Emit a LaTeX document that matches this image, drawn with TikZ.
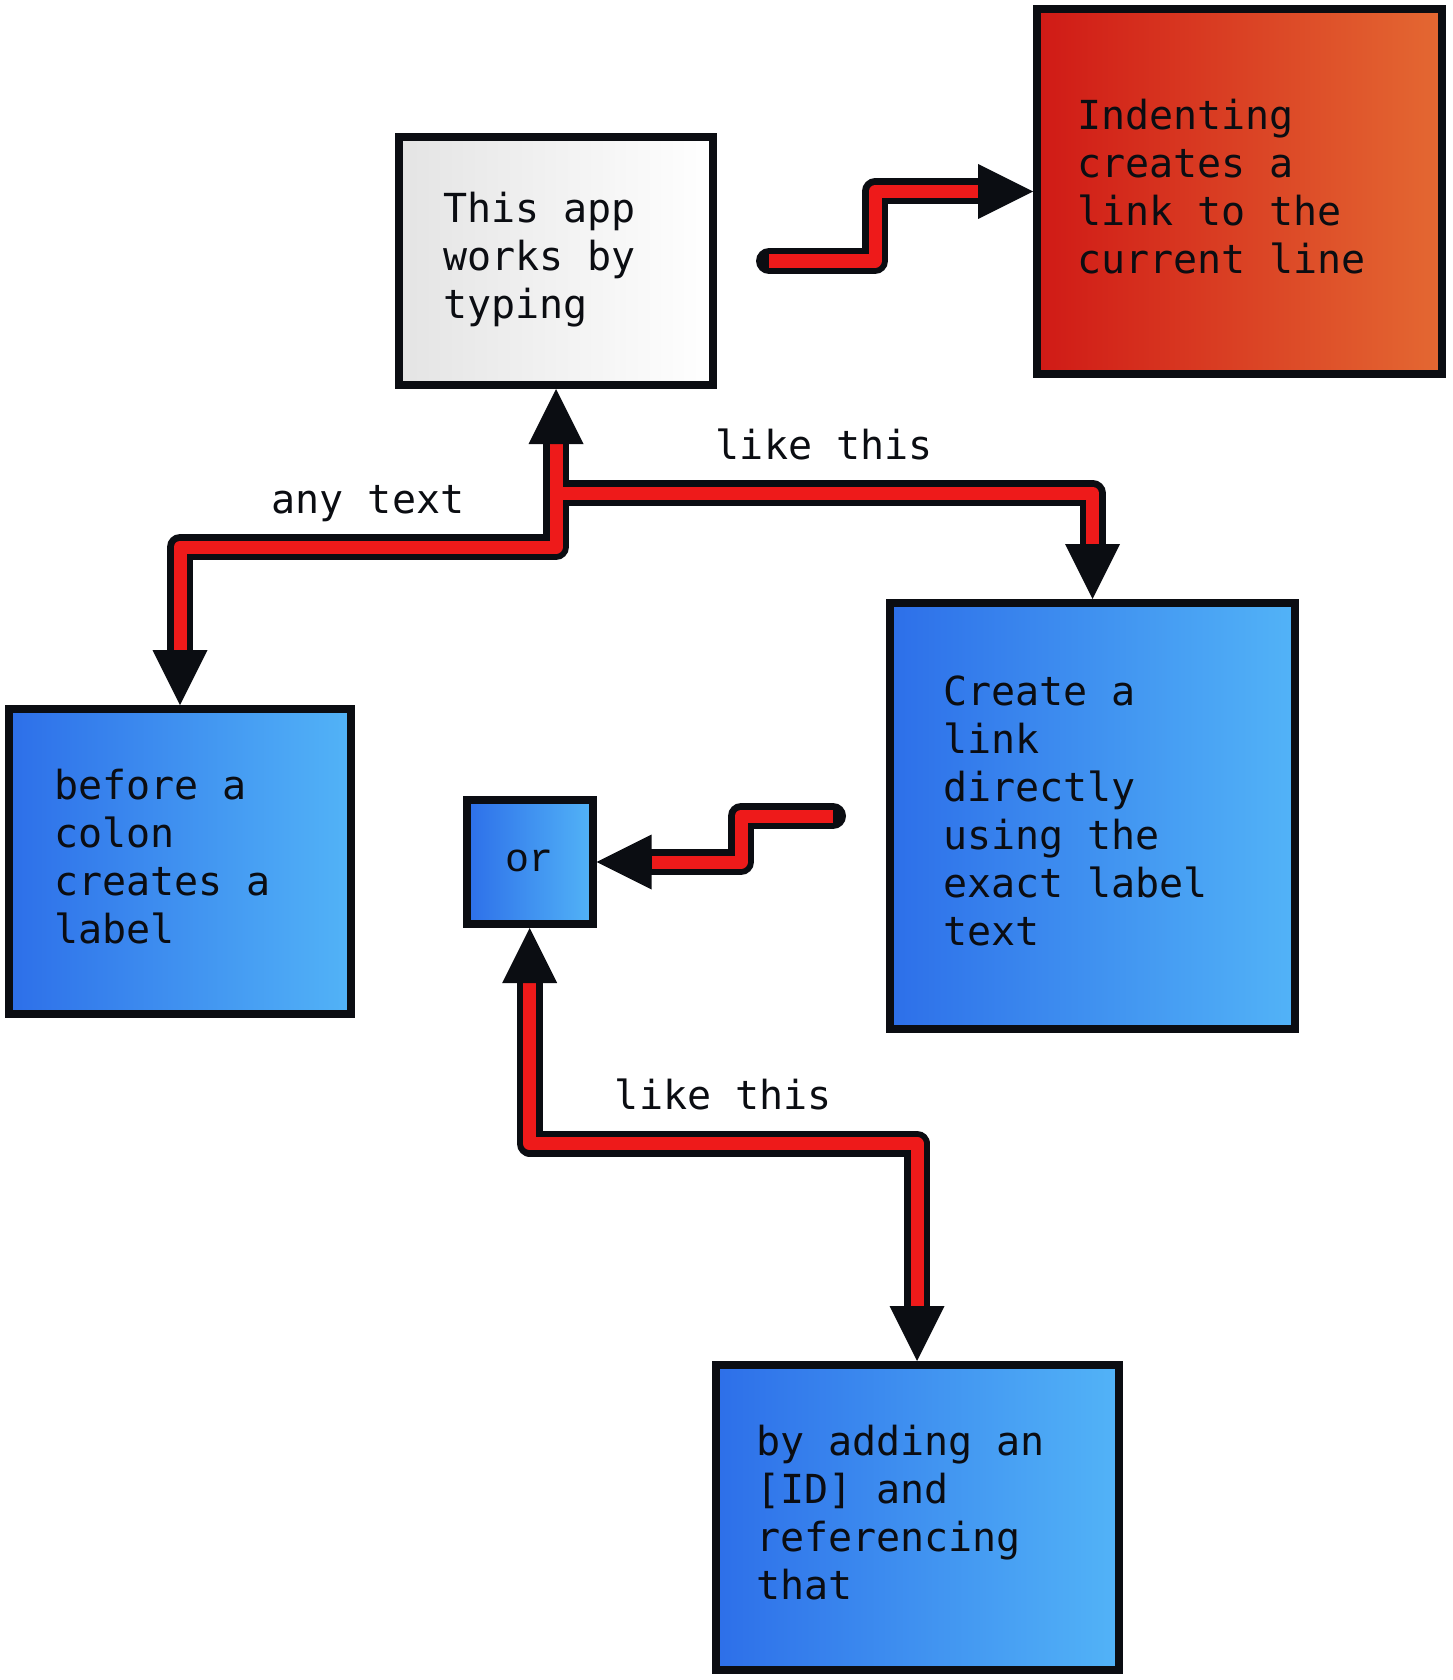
\documentclass[tikz,border=0pt]{standalone}
\usepackage{fontspec}
\newfontfamily\monofont{DejaVu Sans Mono}
\newfontfamily\courfont{Liberation Mono}
\usetikzlibrary{calc}
\definecolor{ink}{HTML}{0B0D12}
\definecolor{linered}{HTML}{EE1A1A}
\definecolor{blueL}{HTML}{2D6FE9}
\definecolor{blueR}{HTML}{52B3F7}
\definecolor{redL}{HTML}{D01A16}
\definecolor{redR}{HTML}{E46832}
\definecolor{greyL}{HTML}{E4E4E4}
\begin{document}
\begin{tikzpicture}[x=1pt,y=-1pt,
  box/.style={draw=ink, line width=8pt, inner sep=0pt, align=flush left,
    font=\monofont\fontsize{40}{48}\selectfont, text=ink,
    execute at begin node={\spaceskip=0pt\xspaceskip=0pt\strut}, execute at end node=\strut},
  greybox/.style={box, left color=greyL, right color=white},
  redbox/.style={box, left color=redL, right color=redR},
  bluebox/.style={box, left color=blueL, right color=blueR},
  outl/.style={draw=ink, line width=26pt, line cap=round, line join=round},
  redl/.style={draw=linered, line width=13pt, line join=round},
  tipfill/.style={fill=ink},
  lbl/.style={font=\monofont\fontsize{40}{48}\selectfont, text=ink, anchor=base, inner sep=0pt, yshift=34pt}
]
\useasboundingbox (0,0) rectangle (1452,1680);
\fill[white] (0,0) rectangle (1452,1680);

% boxes
\node[greybox, minimum width=314pt, minimum height=248pt, text width=226pt] (A) at (556,261) {This app\\works by\\typing};
\node[redbox, minimum width=405pt, minimum height=365pt, text width=325pt] (B) at (1239.5,191.5) {Indenting\\creates a\\link to the\\current line};
\node[bluebox, minimum width=342pt, minimum height=305pt, text width=252pt] (C) at (180,861.5) {before a\\colon\\creates a\\label};
\node[bluebox, minimum width=405pt, minimum height=426pt, text width=299pt] (D) at (1092.5,816) {Create a\\link\\directly\\using the\\exact label\\text};
\node[bluebox, minimum width=126pt, minimum height=124pt, align=center, font=\courfont\fontsize{40}{48}\selectfont] (E) at (529.7,862) {or};
\node[bluebox, minimum width=403pt, minimum height=305pt, text width=322pt] (F) at (917,1517.5) {by adding an\\{[ID]} and\\referencing\\that};

\coordinate (s1) at ($(A.east)+(52,0)$);
\coordinate (s2) at ($(D.west)+(-53,0)$);

% black outlines
\draw[outl, shorten >=55pt] (s1) -| (875,191.5) -- (B.west);
\draw[outl, shorten <=55pt, shorten >=55pt] (A.south) |- (180,547) -- (C.north);
\draw[outl, shorten <=55pt, shorten >=55pt] (A.south) |- (1092.5,493) -- (D.north);
\draw[outl, shorten >=55pt] (s2) -| (741,862) -- (E.east);
\draw[outl, shorten <=55pt, shorten >=55pt] (E.south) |- (917,1143.5) -- (F.north);

% red cores with labels
\draw[redl, shorten >=55pt] (s1) -| (875,191.5) -- (B.west);
\draw[redl, shorten <=55pt, shorten >=55pt] (A.south) |- (180,547) node[lbl, pos=0.75] (L1) {any text} -- (C.north);
\draw[redl, shorten <=55pt, shorten >=55pt] (A.south) |- (1092.5,493) node[lbl, pos=0.75] (L2) {like this} -- (D.north);
\draw[redl, shorten >=55pt] (s2) -| (741,862) -- (E.east);
\draw[redl, shorten <=55pt, shorten >=55pt] (E.south) |- (917,1143.5) node[lbl, pos=0.75] (L3) {like this} -- (F.north);

% arrow tips
\fill[tipfill] (B.west) -- ++(-55,-27.5) -- ++(0,55) -- cycle;
\fill[tipfill] (A.south) -- ++(-27.5,55) -- ++(55,0) -- cycle;
\fill[tipfill] (C.north) -- ++(-27.5,-55) -- ++(55,0) -- cycle;
\fill[tipfill] (D.north) -- ++(-27.5,-55) -- ++(55,0) -- cycle;
\fill[tipfill] (E.east) -- ++(55,-27.5) -- ++(0,55) -- cycle;
\fill[tipfill] (E.south) -- ++(-27.5,55) -- ++(55,0) -- cycle;
\fill[tipfill] (F.north) -- ++(-27.5,-55) -- ++(55,0) -- cycle;
\end{tikzpicture}
\end{document}
